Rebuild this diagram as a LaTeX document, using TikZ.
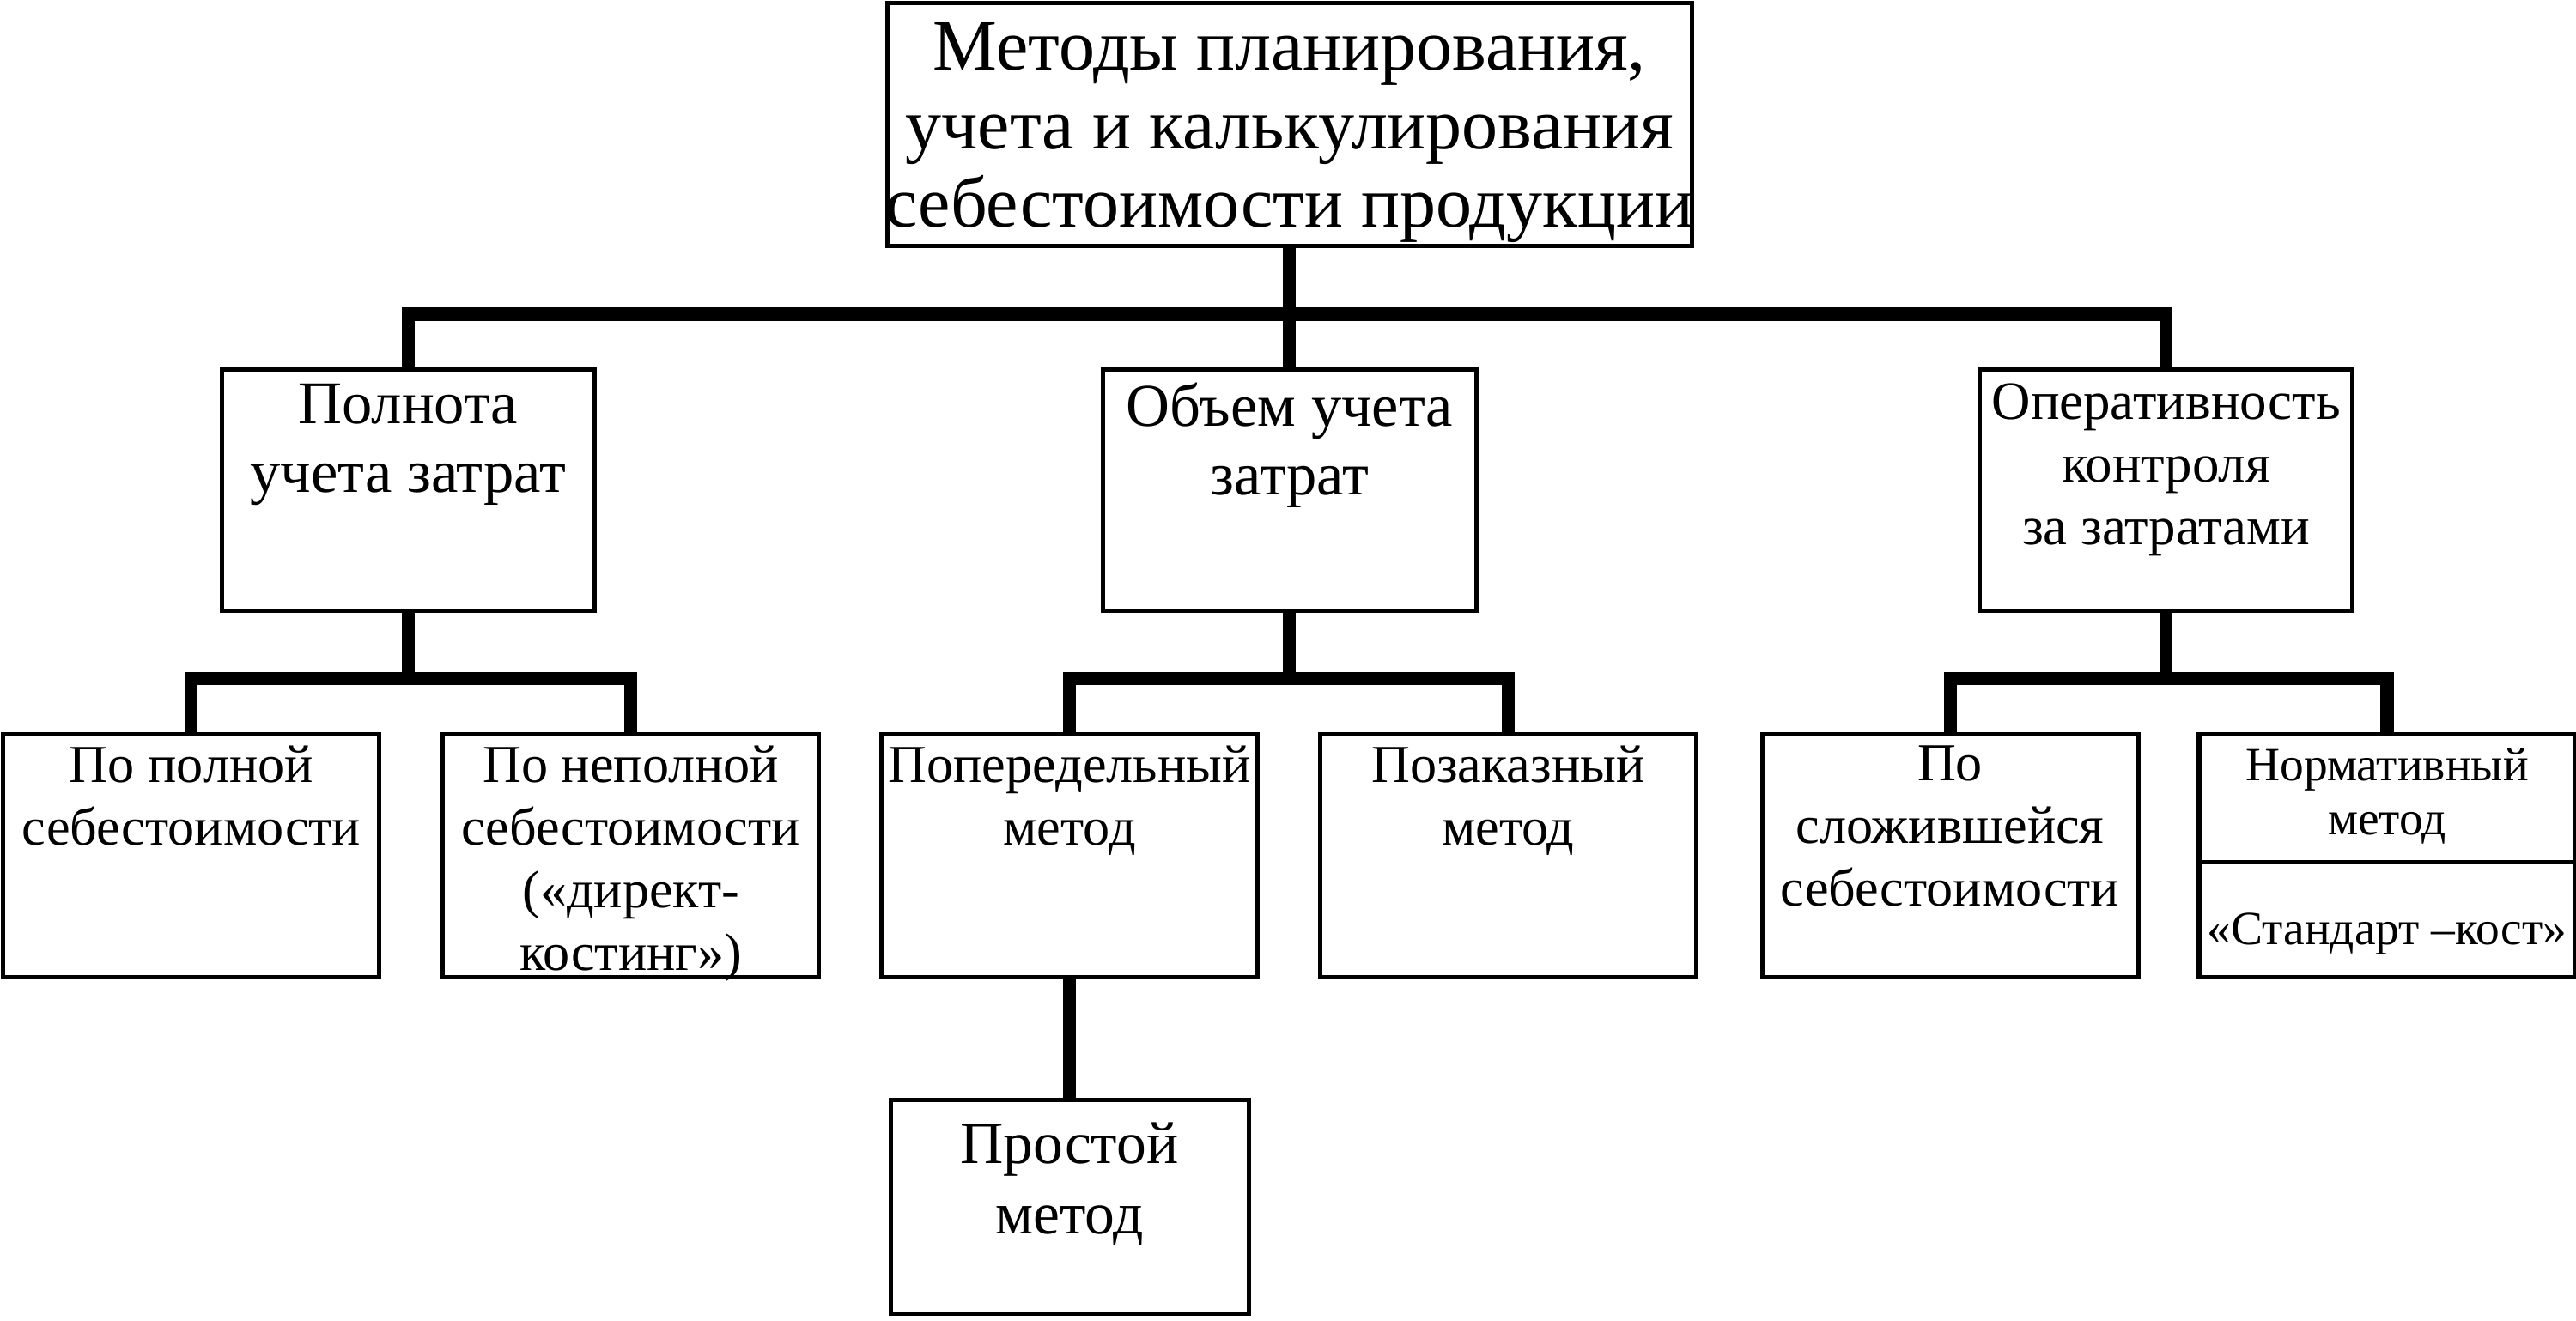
\documentclass[tikz,border=0pt]{standalone}
\usepackage{fontspec}
\setmainfont{Liberation Serif}
\begin{document}
\begin{tikzpicture}[
    x=0.02cm, y=-0.02cm,
    box/.style={draw, line width=1.5pt, inner sep=0pt,
      minimum width=4.58cm, minimum height=2.96cm},
    hbox/.style={box, minimum width=4.54cm, minimum height=2.94cm},
    txt/.style={anchor=north, align=center, inner sep=0pt},
    conn/.style={line width=4.5pt},
    big/.style={font=\fontsize{25}{27.2}\selectfont},
    mid/.style={font=\fontsize{21}{23.8}\selectfont},
    sml/.style={font=\fontsize{18.5}{21.7}\selectfont},
    tiny/.style={font=\fontsize{16.5}{18.7}\selectfont}
  ]
  \useasboundingbox (0,0) rectangle (1568,804);
  % Root.
  \node[box, minimum width=9.8cm] (top) at (785,76) {};
  \node[txt, big] (top-t) at ([yshift=-7.4pt]top.north)
    {Методы планирования,\\учета и калькулирования\\себестоимости продукции};
  % Second level.
  \node[hbox] (full) at (248.5,298.5) {};
  \node[hbox] (vol) at (785,298.5) {};
  \node[hbox] (ctl) at (1318.5,298.5) {};
  \node[txt, mid] (full-t) at ([yshift=-5.6pt]full.north) {Полнота\\учета затрат};
  \node[txt, mid] (vol-t) at ([yshift=-5pt]vol.north) {Объем учета\\затрат};
  \node[txt, font=\fontsize{18.7}{21.8}\selectfont] (ctl-t) at ([yshift=-5.4pt]ctl.north)
    {Оперативность\\контроля\\за затратами};
  % Third level.
  \node[box] (pfull) at (116.5,521) {};
  \node[box] (pdir) at (384,521) {};
  \node[box] (proc) at (651,521) {};
  \node[box] (job) at (918,521) {};
  \node[box] (hist) at (1187,521) {};
  \node[box] (norm) at (1453,521) {};
  \node[txt, sml] (pfull-t) at ([yshift=-4.6pt]pfull.north) {По полной\\себестоимости};
  \node[txt, sml] (pdir-t) at ([yshift=-4.6pt]pdir.north)
    {По неполной\\себестоимости\\(«директ-\\костинг»)};
  \node[txt, sml] (proc-t) at ([yshift=-4.6pt]proc.north) {Попередельный\\метод};
  \node[txt, sml] (job-t) at ([yshift=-4.6pt]job.north) {Позаказный\\метод};
  \node[txt, sml] (hist-t) at ([yshift=-4.6pt]hist.north)
    {По\\сложившейся\\себестоимости};
  \node[txt, tiny] (norm-t) at ([yshift=-5.4pt]norm.north) {Нормативный\\метод};
  \node[txt, tiny] (std-t) at ([yshift=-19.8pt]norm.center) {«Стандарт –кост»};
  \draw[line width=1.5pt] ([yshift=-0.08cm]norm.west) -- ([yshift=-0.08cm, xshift=1.5pt]norm.east);
  % Fourth level.
  \node[box, minimum width=4.36cm, minimum height=2.6cm] (simple) at (651,735) {};
  \node[txt, font=\fontsize{20.7}{24.4}\selectfont] (simple-t) at ([yshift=-8.4pt]simple.north)
    {Простой\\метод};
  % Connectors.
  \draw[conn] (top.south) -- ++(0,40) -| (full.north);
  \draw[conn] (top.south) -- ++(0,40) -| (ctl.north);
  \draw[conn] (top.south) -- (vol.north);
  \draw[conn] (full.south) -- ++(0,40) -| (pfull.north);
  \draw[conn] (full.south) -- ++(0,40) -| (pdir.north);
  \draw[conn] (vol.south) -- ++(0,40) -| (proc.north);
  \draw[conn] (vol.south) -- ++(0,40) -| (job.north);
  \draw[conn] (ctl.south) -- ++(0,40) -| (hist.north);
  \draw[conn] (ctl.south) -- ++(0,40) -| (norm.north);
  \draw[conn] (proc.south) -- (simple.north);
\end{tikzpicture}
\end{document}
